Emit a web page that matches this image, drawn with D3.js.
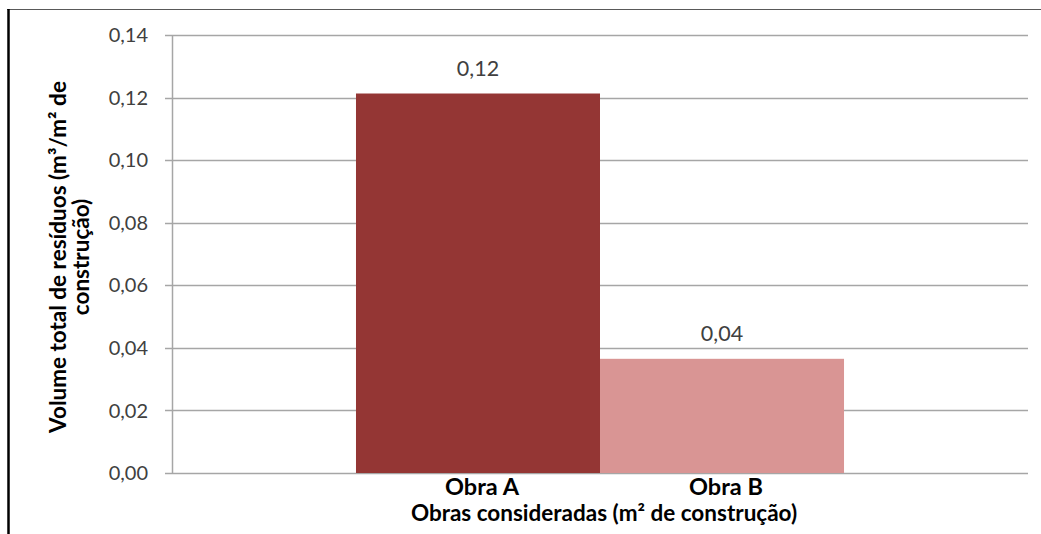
<!DOCTYPE html>
<html><head><meta charset="utf-8">
<script src="https://cdn.jsdelivr.net/npm/d3@7"></script>
<style>
html,body{margin:0;padding:0;background:#fff;}
svg{display:block;font-family:Lato, "Open Sans", sans-serif;}
</style></head>
<body>
<svg id="chart" width="1041" height="534"></svg>
<script>
const categories = ["Obra A", "Obra B"];
const values = [0.1213, 0.0365];
const valueLabels = ["0,12", "0,04"];
const barColors = ["#943634", "#D99594"];
const yTicks = [0, 0.02, 0.04, 0.06, 0.08, 0.10, 0.12, 0.14];
const yTitleLines = ["Volume total de resíduos (m³/m² de", "construção)"];
const xTitle = "Obras consideradas (m² de construção)";

const svg = d3.select("#chart");
const W = 1041, H = 534;
const m = {left: 172, right: 13, top: 35, bottom: 61};

// frame
svg.append("line").attr("x1", 7).attr("x2", W).attr("y1", 9.5).attr("y2", 9.5)
  .attr("stroke", "#595959").attr("stroke-width", 1.2);
svg.append("line").attr("x1", 8.5).attr("x2", 8.5).attr("y1", 9).attr("y2", H)
  .attr("stroke", "#000").attr("stroke-width", 2.5);

const y = d3.scaleLinear().domain([0, 0.14]).range([H - m.bottom, m.top]);
const x = d3.scaleBand().domain(categories).range([m.left, W - m.right])
  .paddingInner(0).paddingOuter(0.754);

const fmt = v => d3.format(".2f")(v).replace(".", ",");

// gridlines
svg.append("g").selectAll("line").data(yTicks).join("line")
  .attr("x1", m.left - 7).attr("x2", W - m.right)
  .attr("y1", d => Math.round(y(d)) + 0.5).attr("y2", d => Math.round(y(d)) + 0.5)
  .attr("stroke", "#a6a6a6").attr("stroke-width", 1.5);

// y axis line
svg.append("line").attr("x1", m.left + 0.5).attr("x2", m.left + 0.5)
  .attr("y1", y(0.14)).attr("y2", y(0)).attr("stroke", "#a6a6a6").attr("stroke-width", 1.5);

// y tick labels
svg.append("g").selectAll("text").data(yTicks).join("text")
  .attr("x", 148).attr("y", d => y(d)).attr("dy", "0.36em")
  .attr("text-anchor", "end").attr("font-size", 20).attr("fill", "#404040")
  .text(fmt);

// bars
svg.append("g").selectAll("rect").data(categories).join("rect")
  .attr("x", d => x(d)).attr("width", x.bandwidth())
  .attr("y", (d, i) => y(values[i])).attr("height", (d, i) => y(0) - y(values[i]))
  .attr("fill", (d, i) => barColors[i]);

// value labels
svg.append("g").selectAll("text").data(categories).join("text")
  .attr("x", d => x(d) + x.bandwidth() / 2).attr("y", (d, i) => y(values[i]) - 18)
  .attr("text-anchor", "middle").attr("font-size", 21.5).attr("fill", "#404040")
  .text((d, i) => valueLabels[i]);

// category labels
svg.append("g").selectAll("text").data(categories).join("text")
  .attr("x", d => x(d) + x.bandwidth() / 2 + 4).attr("y", 495)
  .attr("text-anchor", "middle").attr("font-size", 23.5).attr("font-weight", "bold")
  .attr("fill", "#000").text(d => d);

// x title
svg.append("text").attr("x", (m.left + W - m.right) / 2 + 4).attr("y", 521)
  .attr("text-anchor", "middle").attr("font-size", 22.5).attr("font-weight", "bold")
  .attr("fill", "#000").text(xTitle);

// y title
const yc = (y(0) + y(0.14)) / 2 + 3;
svg.append("g").selectAll("text").data(yTitleLines).join("text")
  .attr("transform", (d, i) => `translate(${66 + i * 23},${yc}) rotate(-90)`)
  .attr("text-anchor", "middle").attr("font-size", 22.5).attr("font-weight", "bold")
  .attr("fill", "#000").text(d => d);
</script>
</body></html>
